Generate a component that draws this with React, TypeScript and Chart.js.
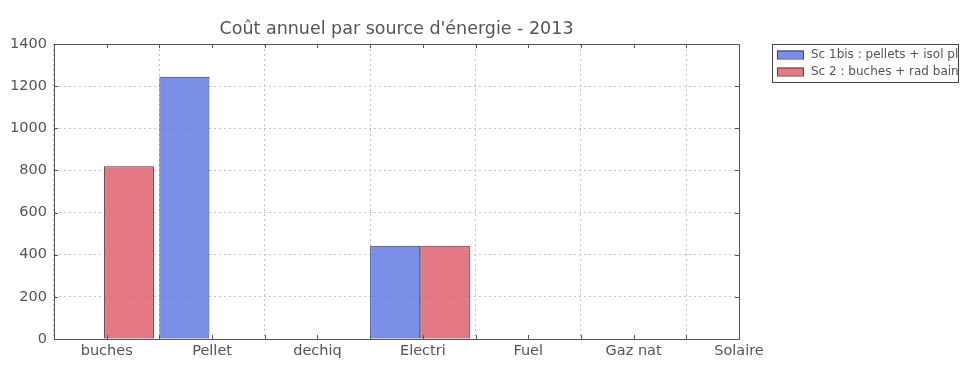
import React, { useEffect, useRef } from 'react';
import { Chart, registerables } from 'chart.js';

Chart.register(...registerables);

const titleText = "Coût annuel par source d'énergie - 2013";
const categories = ['buches', 'Pellet', 'dechiq', 'Electri', 'Fuel', 'Gaz nat', 'Solaire'];
const seriesLabels = ['Sc 1bis : pellets + isol plafond', 'Sc 2 : buches + rad bain'];
const sc1Values = [0, 1245, 0, 443, 0, 0, 0];
const sc2Values = [820, 0, 0, 443, 0, 0, 0];
const yTicks = [0, 200, 400, 600, 800, 1000, 1200, 1400];

const FONT = "'DejaVu Sans', sans-serif";
const TEXT = '#555555';
const AXIS = '#555555';
const FILLS = ['rgba(90,114,226,0.8)', 'rgba(222,87,100,0.8)'];
const EDGES = ['#35407a', '#5e3c46'];

const framePlugin = {
  id: 'frame',
  afterDraw(chart: any) {
    const { ctx, chartArea: a, scales } = chart;
    const xs = scales.x;
    const ys = scales.y;
    ctx.save();
    ctx.strokeStyle = AXIS;
    ctx.lineWidth = 1;
    ctx.strokeRect(Math.round(a.left) + 0.5, Math.round(a.top) + 0.5, Math.round(a.right - a.left), Math.round(a.bottom - a.top));
    ctx.beginPath();
    for (let i = 0; i <= categories.length * 2; i++) {
      const v = i / 2;
      if (v > xs.max + 1e-6) break;
      const px = Math.round(xs.getPixelForValue(v)) + 0.5;
      ctx.moveTo(px, a.top);
      ctx.lineTo(px, a.top + 4);
      ctx.moveTo(px, a.bottom);
      ctx.lineTo(px, a.bottom - 4);
    }
    for (const t of yTicks) {
      const py = Math.round(ys.getPixelForValue(t)) + 0.5;
      ctx.moveTo(a.left, py);
      ctx.lineTo(a.left + 4, py);
      ctx.moveTo(a.right, py);
      ctx.lineTo(a.right - 4, py);
    }
    ctx.stroke();

    // title
    ctx.fillStyle = TEXT;
    ctx.font = `17.5px ${FONT}`;
    ctx.textAlign = 'center';
    ctx.textBaseline = 'middle';
    ctx.fillText(titleText, (a.left + a.right) / 2, 29);

    // legend
    const lx = 772;
    const ly = 44;
    const lw = 186;
    const lh = 38;
    ctx.fillStyle = '#ffffff';
    ctx.fillRect(lx, ly, lw, lh);
    ctx.strokeStyle = '#444444';
    ctx.strokeRect(lx + 0.5, ly + 0.5, lw, lh);
    ctx.save();
    ctx.beginPath();
    ctx.rect(lx, ly, lw, lh);
    ctx.clip();
    ctx.font = `12px ${FONT}`;
    ctx.textAlign = 'left';
    ctx.textBaseline = 'middle';
    chart.data.datasets.forEach((ds: any, i: number) => {
      const cy = 54.5 + i * 17;
      ctx.fillStyle = FILLS[i];
      ctx.fillRect(777, cy - 4, 26, 8);
      ctx.strokeStyle = EDGES[i];
      ctx.strokeRect(777.5, cy - 3.5, 26, 8);
      ctx.fillStyle = TEXT;
      ctx.fillText(ds.label, 811, cy);
    });
    ctx.restore();
    ctx.restore();
  },
};

export default function App() {
  const ref = useRef<HTMLCanvasElement | null>(null);
  useEffect(() => {
    if (!ref.current) return;
    const mk = (vals: number[]) => vals.map((v, i) => ({ x: i + 0.475, y: v }));
    const chart = new Chart(ref.current, {
      type: 'bar',
      data: {
        datasets: [
          {
            label: seriesLabels[0],
            data: mk(sc1Values),
            backgroundColor: FILLS[0],
            borderColor: EDGES[0],
            borderWidth: 1,
            borderSkipped: false,
            categoryPercentage: 0.95,
            barPercentage: 1,
          },
          {
            label: seriesLabels[1],
            data: mk(sc2Values),
            backgroundColor: FILLS[1],
            borderColor: EDGES[1],
            borderWidth: 1,
            borderSkipped: false,
            categoryPercentage: 0.95,
            barPercentage: 1,
          },
        ],
      } as any,
      options: {
        responsive: false,
        animation: false,
        layout: { padding: { top: 44, right: 236, left: 0, bottom: 0 } },
        plugins: { legend: { display: false }, title: { display: false }, tooltip: { enabled: false } },
        scales: {
          x: {
            type: 'linear',
            min: 0,
            max: 6.5,
            offset: false,
            afterBuildTicks: (s: any) => {
              s.ticks = categories.map((_, i) => ({ value: i + 0.5 }));
            },
            afterFit: (s: any) => {
              s.height = 36;
            },
            ticks: {
              autoSkip: false,
              maxRotation: 0,
              padding: 4,
              color: TEXT,
              font: { family: FONT, size: 14.5 },
              callback: (_v: any, i: number) => categories[i],
            },
            grid: { offset: true, color: '#c4c4c4', lineWidth: 1, drawTicks: false },
            border: { display: false, dash: [2, 3] },
          },
          y: {
            min: 0,
            max: 1400,
            afterBuildTicks: (s: any) => {
              s.ticks = yTicks.map((v) => ({ value: v }));
            },
            afterFit: (s: any) => {
              s.width = 54;
            },
            ticks: {
              padding: 7,
              color: TEXT,
              font: { family: FONT, size: 14.5 },
              callback: (v: any) => String(v),
            },
            grid: { color: '#c4c4c4', lineWidth: 1, drawTicks: false },
            border: { display: false, dash: [2, 3] },
          },
        },
      } as any,
      plugins: [framePlugin],
    });
    return () => chart.destroy();
  }, []);
  return (
    <div style={{ position: 'fixed', left: 0, top: 0, width: 975, height: 375, background: '#fff' }}>
      <canvas ref={ref} width={975} height={375} style={{ display: 'block' }} />
    </div>
  );
}
